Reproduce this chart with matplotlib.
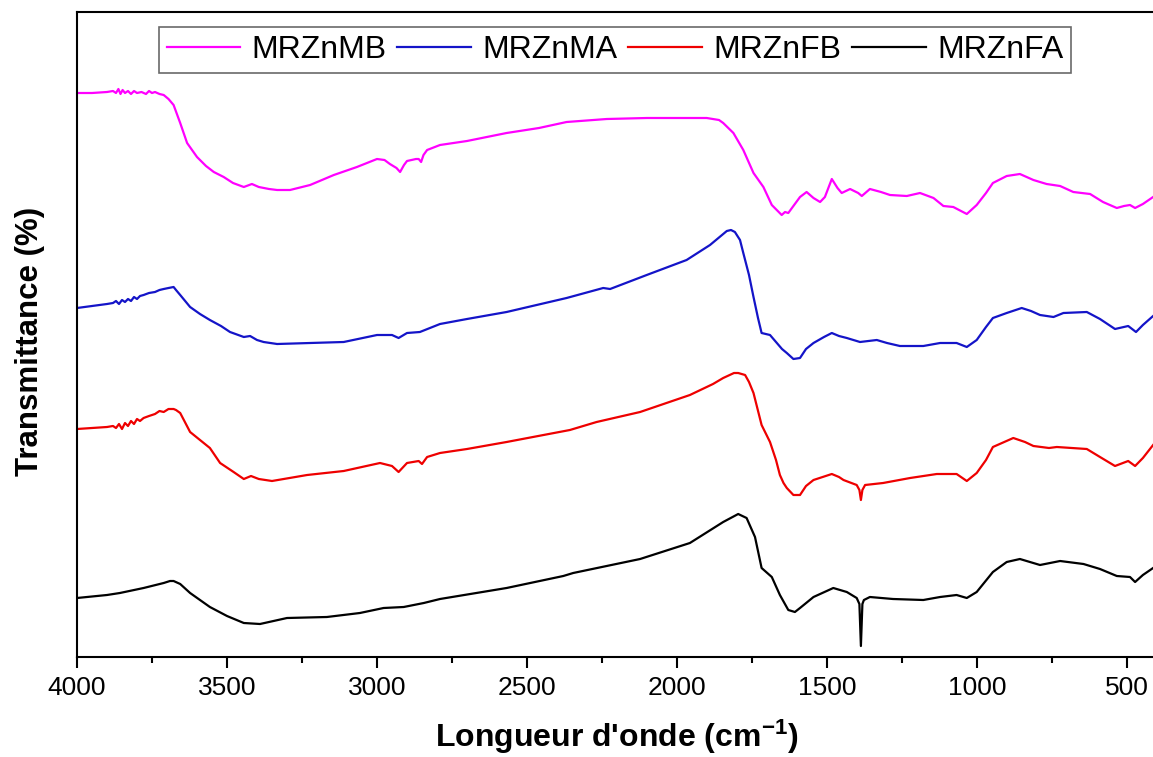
import matplotlib
matplotlib.use('Agg')
import matplotlib.pyplot as plt
from matplotlib.ticker import MultipleLocator

plt.rcParams['font.family'] = ['Liberation Sans', 'DejaVu Sans']
plt.rcParams['mathtext.fontset'] = 'custom'
plt.rcParams['mathtext.rm'] = 'Liberation Sans'
plt.rcParams['mathtext.bf'] = 'Liberation Sans:bold'
plt.rcParams['mathtext.default'] = 'bf'

# spectres IR (transmittance en unites arbitraires, courbes decalees)
wn_mb = [4000, 3950, 3900, 3880, 3870, 3862, 3855, 3848, 3840, 3830, 3820, 3810, 3800, 3785, 3770,
         3760, 3750, 3740, 3725, 3711, 3695, 3678, 3656, 3633, 3600, 3570, 3544, 3511, 3480, 3444,
         3417, 3394, 3360, 3333, 3290, 3223, 3144, 3067, 3000, 2975, 2957, 2935, 2923, 2910, 2900,
         2870, 2861, 2853, 2845, 2833, 2790, 2700, 2568, 2460, 2368, 2234, 2100, 2012, 1901, 1860,
         1846, 1812, 1779, 1745, 1712, 1684, 1651, 1640, 1629, 1612, 1590, 1568, 1545, 1523, 1507,
         1484, 1465, 1451, 1423, 1396, 1384, 1357, 1320, 1290, 1234, 1190, 1145, 1112, 1079, 1034,
         1001, 970, 947, 901, 857, 812, 768, 723, 679, 623, 580, 534, 510, 490, 473, 447, 413]
t_mb = [564, 564, 565, 566, 564, 568, 563, 567, 564, 566, 563, 566, 564, 565, 563,
        566, 564, 565, 563, 562, 558, 552, 534, 514, 500, 491, 485, 480, 474, 470,
        473, 470, 468, 467, 467, 472, 482, 490, 498, 497, 493, 489, 485, 492, 496,
        498, 498, 495, 502, 507, 512, 516, 524, 529, 535, 538, 539, 539, 539, 537,
        534, 524, 507, 484, 470, 452, 442, 445, 444, 451, 460, 465, 459, 455, 460,
        478, 469, 464, 468, 464, 461, 468, 465, 462, 461, 464, 459, 451, 450, 443,
        452, 464, 474, 481, 483, 477, 473, 471, 465, 463, 455, 449, 451, 452, 449, 453, 460]

wn_ma = [4000, 3950, 3900, 3880, 3870, 3860, 3850, 3840, 3830, 3820, 3810, 3800, 3790, 3778, 3760,
         3740, 3725, 3711, 3695, 3678, 3670, 3656, 3623, 3590, 3557, 3520, 3490, 3444, 3423, 3400,
         3378, 3333, 3223, 3111, 3000, 2950, 2928, 2900, 2857, 2790, 2700, 2568, 2468, 2368, 2246,
         2223, 2101, 1968, 1890, 1850, 1834, 1820, 1807, 1790, 1779, 1760, 1745, 1730, 1718, 1690,
         1670, 1650, 1634, 1612, 1590, 1570, 1545, 1510, 1484, 1460, 1434, 1390, 1334, 1300, 1257,
         1179, 1123, 1068, 1034, 1001, 970, 947, 901, 851, 820, 790, 745, 712, 634, 590,
         540, 496, 470, 447, 413]
t_ma = [349, 351, 353, 354, 356, 353, 357, 355, 358, 356, 360, 358, 361, 362, 364,
        365, 367, 368, 369, 370, 367, 362, 350, 343, 337, 331, 325, 320, 321, 317,
        315, 313, 314, 315, 322, 322, 319, 324, 325, 333, 338, 345, 352, 359, 369,
        368, 382, 397, 412, 422, 426, 427, 425, 417, 404, 382, 360, 339, 324, 322,
        315, 308, 304, 298, 299, 308, 314, 320, 324, 321, 319, 315, 317, 314, 311,
        311, 314, 314, 310, 317, 330, 339, 344, 349, 346, 342, 340, 344, 345, 338,
        328, 331, 325, 332, 341]

wn_fb = [4000, 3950, 3900, 3880, 3870, 3860, 3850, 3840, 3830, 3820, 3810, 3800, 3790, 3778, 3760,
         3740, 3725, 3711, 3695, 3678, 3670, 3656, 3623, 3590, 3557, 3523, 3478, 3444, 3420, 3394,
         3350, 3233, 3111, 2990, 2950, 2928, 2900, 2861, 2850, 2833, 2790, 2700, 2568, 2357, 2268,
         2123, 1957, 1880, 1846, 1810, 1796, 1773, 1760, 1745, 1718, 1690, 1670, 1657, 1645, 1634,
         1612, 1590, 1570, 1545, 1484, 1460, 1445, 1401, 1392, 1387, 1382, 1373, 1313, 1223, 1134,
         1068, 1034, 1001, 970, 947, 879, 840, 812, 760, 734, 634, 590, 540, 496, 473, 447, 413]
t_fb = [228, 229, 230, 231, 229, 233, 228, 234, 231, 236, 233, 238, 236, 239, 241,
        243, 246, 245, 248, 248, 247, 244, 225, 217, 209, 194, 185, 178, 181, 178,
        176, 182, 186, 194, 191, 185, 194, 196, 193, 200, 204, 208, 215, 227, 235,
        245, 262, 273, 279, 284, 284, 282, 275, 264, 232, 215, 197, 182, 174, 169,
        162, 162, 171, 177, 183, 180, 177, 172, 167, 157, 167, 172, 174, 179, 183,
        183, 176, 184, 197, 210, 219, 215, 211, 209, 210, 208, 200, 191, 196, 191, 199, 212]

wn_fa = [4000, 3900, 3857, 3778, 3711, 3690, 3678, 3656, 3623, 3557, 3500, 3444, 3390, 3300, 3167,
         3057, 2978, 2911, 2844, 2790, 2568, 2379, 2346, 2123, 1957, 1846, 1796, 1768, 1740, 1718,
         1684, 1657, 1629, 1607, 1590, 1545, 1479, 1434, 1401, 1392, 1387, 1382, 1377, 1357, 1280,
         1179, 1123, 1068, 1034, 1001, 947, 901, 857, 790, 723, 645, 590, 534, 490, 473, 447, 413]
t_fa = [59, 62, 64, 69, 74, 76, 76, 73, 64, 50, 41, 34, 33, 39, 40,
        44, 49, 50, 54, 58, 69, 81, 84, 98, 114, 135, 143, 139, 120, 89,
        80, 62, 47, 45, 49, 60, 69, 65, 59, 53, 11, 53, 57, 60, 58,
        57, 60, 62, 59, 65, 85, 95, 98, 92, 96, 93, 88, 81, 80, 75, 82, 89]

fig = plt.figure(figsize=(11.53, 7.57), dpi=100)
ax = fig.add_axes([77/1153, 100/757, 1080/1153, 645/757])

ax.plot(wn_mb, t_mb, color='#ff00ff', lw=1.6, label='MRZnMB')
ax.plot(wn_ma, t_ma, color='#1414c8', lw=1.6, label='MRZnMA')
ax.plot(wn_fb, t_fb, color='#ee0000', lw=1.6, label='MRZnFB')
ax.plot(wn_fa, t_fa, color='black', lw=1.6, label='MRZnFA')

ax.set_xlim(4000, 400)
ax.set_ylim(0, 645)
ax.xaxis.set_major_locator(MultipleLocator(500))
ax.xaxis.set_minor_locator(MultipleLocator(250))
ax.set_yticks([])
ax.tick_params(axis='x', which='major', direction='out', length=8, width=1.5, labelsize=19, pad=6)
ax.tick_params(axis='x', which='minor', direction='out', length=4.5, width=1.5)
for s in ax.spines.values():
    s.set_linewidth(1.5)

ax.set_xlabel("Longueur d'onde (cm$^{-1}$)", fontsize=23, fontweight='bold')
ax.xaxis.set_label_coords(0.5, -0.094)
ax.set_ylabel('Transmittance (%)', fontsize=22.5, fontweight='bold')
ax.yaxis.set_label_coords(-0.03, 0.49)

leg = ax.legend(loc='upper center', bbox_to_anchor=(0.498, 0.977), ncol=4, fontsize=23,
                frameon=True, fancybox=False, edgecolor='#444444', borderaxespad=0,
                handlelength=2.3, handletextpad=0.35, columnspacing=0.35, borderpad=0.25)
leg.get_frame().set_linewidth(1.2)

fig.savefig('out.png', dpi=100)
